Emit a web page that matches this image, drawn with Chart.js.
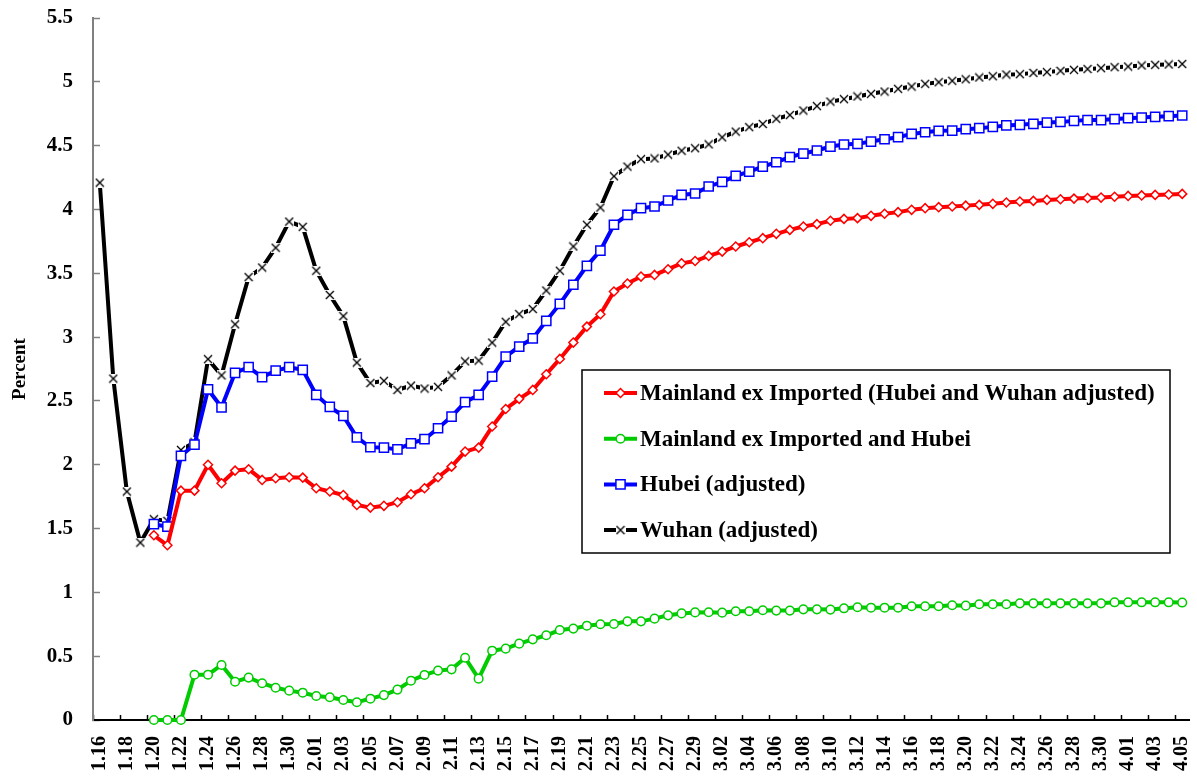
<!DOCTYPE html>
<html>
<head>
<meta charset="utf-8">
<title>Case fatality rates, Mainland / Hubei / Wuhan</title>
<script src="https://cdn.jsdelivr.net/npm/chart.js@4.4.1/dist/chart.umd.min.js"></script>
<style>
  html, body { margin: 0; padding: 0; background: #fff; }
  #wrap { width: 1197px; height: 778px; }
</style>
</head>
<body>
<div id="wrap"><canvas id="chart" width="1197" height="778"></canvas></div>
<script>
/* Daily readings, 16 Jan to 5 Apr */
var DATES = [
  '1.16', '1.17', '1.18', '1.19', '1.20', '1.21', '1.22', '1.23', '1.24', '1.25', '1.26', '1.27', '1.28', '1.29', '1.30', '1.31',
  '2.01', '2.02', '2.03', '2.04', '2.05', '2.06', '2.07', '2.08', '2.09', '2.10', '2.11', '2.12', '2.13', '2.14', '2.15',
  '2.16', '2.17', '2.18', '2.19', '2.20', '2.21', '2.22', '2.23', '2.24', '2.25', '2.26', '2.27', '2.28', '2.29',
  '3.01', '3.02', '3.03', '3.04', '3.05', '3.06', '3.07', '3.08', '3.09', '3.10', '3.11', '3.12', '3.13', '3.14', '3.15',
  '3.16', '3.17', '3.18', '3.19', '3.20', '3.21', '3.22', '3.23', '3.24', '3.25', '3.26', '3.27', '3.28', '3.29', '3.30', '3.31',
  '4.01', '4.02', '4.03', '4.04', '4.05'
];

var MAINLAND_ADJ = [
  null, null, null, null, 1.447, 1.369, 1.797, 1.797, 2.00, 1.855, 1.954, 1.965, 1.881, 1.894, 1.902, 1.899,
  1.816, 1.79, 1.763, 1.685, 1.664, 1.678, 1.706, 1.769, 1.816, 1.902, 1.985, 2.103, 2.134, 2.299, 2.437,
  2.516, 2.586, 2.709, 2.829, 2.957, 3.082, 3.179, 3.357, 3.42, 3.474, 3.487, 3.532, 3.578, 3.596,
  3.636, 3.67, 3.71, 3.743, 3.775, 3.809, 3.84, 3.866, 3.885, 3.911, 3.926, 3.932, 3.95, 3.966, 3.979,
  3.997, 4.01, 4.018, 4.023, 4.03, 4.036, 4.044, 4.054, 4.062, 4.067, 4.075, 4.08, 4.085, 4.09, 4.093, 4.10,
  4.106, 4.11, 4.114, 4.117, 4.122
];

var MAINLAND_EX_HUBEI = [
  null, null, null, null, 0, 0, 0, 0.355, 0.355, 0.431, 0.30, 0.332, 0.288, 0.253, 0.23, 0.214,
  0.188, 0.178, 0.157, 0.139, 0.167, 0.195, 0.238, 0.308, 0.353, 0.387, 0.397, 0.488, 0.324, 0.543, 0.559,
  0.598, 0.632, 0.664, 0.705, 0.716, 0.739, 0.75, 0.752, 0.773, 0.773, 0.794, 0.82, 0.835, 0.843,
  0.844, 0.841, 0.852, 0.852, 0.86, 0.857, 0.857, 0.867, 0.867, 0.865, 0.875, 0.883, 0.88, 0.88, 0.88,
  0.891, 0.891, 0.891, 0.899, 0.896, 0.907, 0.907, 0.907, 0.914, 0.914, 0.914, 0.914, 0.914, 0.914, 0.914, 0.922,
  0.922, 0.922, 0.922, 0.922, 0.92
];

var HUBEI_ADJ = [
  null, null, null, null, 1.534, 1.515, 2.07, 2.157, 2.59, 2.45, 2.72, 2.764, 2.686, 2.737, 2.764, 2.743,
  2.547, 2.453, 2.382, 2.215, 2.137, 2.134, 2.12, 2.168, 2.20, 2.286, 2.377, 2.49, 2.547, 2.69, 2.847,
  2.926, 2.99, 3.127, 3.26, 3.41, 3.558, 3.678, 3.88, 3.958, 4.01, 4.023, 4.07, 4.114, 4.125,
  4.18, 4.216, 4.263, 4.297, 4.336, 4.37, 4.41, 4.438, 4.462, 4.493, 4.509, 4.514, 4.532, 4.55, 4.566,
  4.592, 4.605, 4.616, 4.618, 4.629, 4.637, 4.647, 4.658, 4.663, 4.671, 4.681, 4.686, 4.694, 4.70, 4.70, 4.708,
  4.715, 4.72, 4.726, 4.731, 4.736
];

var WUHAN_ADJ = [
  4.21, 2.675, 1.79, 1.39, 1.573, 1.56, 2.116, 2.176, 2.827, 2.70, 3.10, 3.47, 3.545, 3.70, 3.905, 3.864,
  3.52, 3.33, 3.164, 2.80, 2.64, 2.657, 2.586, 2.62, 2.597, 2.61, 2.70, 2.81, 2.816, 2.957, 3.12,
  3.18, 3.22, 3.365, 3.52, 3.71, 3.88, 4.015, 4.26, 4.336, 4.394, 4.40, 4.43, 4.46, 4.48,
  4.51, 4.565, 4.61, 4.645, 4.67, 4.71, 4.74, 4.775, 4.81, 4.845, 4.864, 4.885, 4.906, 4.924, 4.945,
  4.963, 4.984, 4.997, 5.008, 5.02, 5.034, 5.044, 5.057, 5.06, 5.07, 5.076, 5.086, 5.094, 5.10, 5.107, 5.115,
  5.12, 5.128, 5.133, 5.136, 5.14
];

var SERIES_NAMES = [
  'Mainland ex Imported (Hubei and Wuhan adjusted)',
  'Mainland ex Imported and Hubei',
  'Hubei (adjusted)',
  'Wuhan (adjusted)'
];

var FONT = '"Liberation Serif", "Times New Roman", serif';

/* Excel-style "x" marker: white box behind the cross, so the line breaks round it */
function crossMarker() {
  var c = document.createElement('canvas');
  c.width = 10;
  c.height = 10;
  var g = c.getContext('2d');
  g.fillStyle = '#fff';
  g.fillRect(0, 0, 10, 10);
  g.strokeStyle = '#000';
  g.lineWidth = 1.3;
  g.beginPath();
  g.moveTo(1, 1); g.lineTo(9, 9);
  g.moveTo(9, 1); g.lineTo(1, 9);
  g.stroke();
  return c;
}

function lineSeries(label, data, color, style, radius) {
  return {
    label: label,
    data: data,
    borderColor: color,
    backgroundColor: '#fff',
    borderWidth: 4,
    pointStyle: style,
    pointRadius: radius,
    pointBorderWidth: 1.5,
    pointBorderColor: color,
    pointBackgroundColor: '#fff',
    tension: 0,
    clip: false
  };
}

/* Boxed legend sitting inside the plot, like the original */
var boxLegend = {
  id: 'boxLegend',
  afterDraw: function(chart, args, opts) {
    var ctx = chart.ctx;
    ctx.save();
    ctx.fillStyle = '#fff';
    ctx.fillRect(opts.left, opts.top, opts.width, opts.height);
    ctx.lineWidth = 1.5;
    ctx.strokeStyle = '#000';
    ctx.strokeRect(opts.left, opts.top, opts.width, opts.height);
    ctx.font = 'bold ' + opts.fontSize + 'px ' + FONT;
    ctx.textBaseline = 'middle';
    ctx.textAlign = 'left';
    chart.data.datasets.forEach(function(ds, i) {
      var y = opts.top + opts.firstRow + i * opts.rowGap;
      var x0 = opts.left + opts.sampleIndent;
      var x1 = x0 + opts.sampleWidth;
      ctx.strokeStyle = ds.borderColor;
      ctx.lineWidth = ds.borderWidth;
      ctx.beginPath();
      ctx.moveTo(x0, y);
      ctx.lineTo(x1, y);
      ctx.stroke();
      ctx.fillStyle = '#fff';
      ctx.lineWidth = ds.pointBorderWidth;
      Chart.helpers.drawPoint(ctx, {
        pointStyle: ds.pointStyle,
        radius: ds.pointRadius,
        borderWidth: ds.pointBorderWidth,
        rotation: 0
      }, (x0 + x1) / 2, y);
      ctx.fillStyle = '#000';
      ctx.fillText(ds.label, x1 + 3, y + 1);
    });
    ctx.restore();
  }
};

var datasets = [
  lineSeries(SERIES_NAMES[0], MAINLAND_ADJ, '#ff0000', 'rectRot', 4.5),
  lineSeries(SERIES_NAMES[1], MAINLAND_EX_HUBEI, '#00cc00', 'circle', 4.3),
  lineSeries(SERIES_NAMES[2], HUBEI_ADJ, '#0000ff', 'rect', 6.5),
  lineSeries(SERIES_NAMES[3], WUHAN_ADJ, '#000000', crossMarker(), 5)
];

new Chart(document.getElementById('chart').getContext('2d'), {
  type: 'line',
  data: { labels: DATES, datasets: datasets },
  plugins: [boxLegend],
  options: {
    responsive: false,
    animation: false,
    events: [],
    layout: { padding: { top: 18, right: 5, bottom: 0, left: 0 } },
    scales: {
      x: {
        type: 'category',
        offset: true,
        border: { color: '#000', width: 2 },
        grid: {
          offset: true,
          drawOnChartArea: false,
          tickLength: -5,
          tickWidth: 1.5,
          tickColor: function(c) { return c.index % 2 === 0 ? '#000' : 'rgba(0,0,0,0)'; }
        },
        ticks: {
          autoSkip: false,
          minRotation: 90,
          maxRotation: 90,
          padding: 21,
          color: '#000',
          font: { family: FONT, size: 20, weight: 'bold' },
          callback: function(v, i) { return i % 2 === 0 ? this.getLabelForValue(v) : ''; }
        },
        afterFit: function(s) {
          s.height = 58;
          s.paddingLeft = 0;
          s.paddingRight = 0;
        }
      },
      y: {
        min: 0,
        max: 5.5,
        border: { color: '#808080', width: 2 },
        grid: {
          drawOnChartArea: false,
          tickLength: -7,
          tickWidth: 1.5,
          tickColor: '#808080'
        },
        ticks: {
          stepSize: 0.5,
          padding: 27,
          color: '#000',
          font: { family: FONT, size: 21, weight: 'bold' },
          callback: function(v) { return String(Math.round(v * 10) / 10); }
        },
        title: {
          display: true,
          text: 'Percent',
          color: '#000',
          font: { family: FONT, size: 19, weight: 'bold' },
          padding: { top: 9, bottom: 0 }
        },
        afterFit: function(s) {
          s.width = 93;
          s.paddingTop = 0;
          s.paddingBottom = 0;
        }
      }
    },
    plugins: {
      legend: { display: false },
      tooltip: { enabled: false },
      boxLegend: {
        left: 582, top: 370, width: 588, height: 183,
        firstRow: 23, rowGap: 45.7,
        sampleIndent: 22, sampleWidth: 33,
        fontSize: 23
      }
    }
  }
});
</script>
</body>
</html>
